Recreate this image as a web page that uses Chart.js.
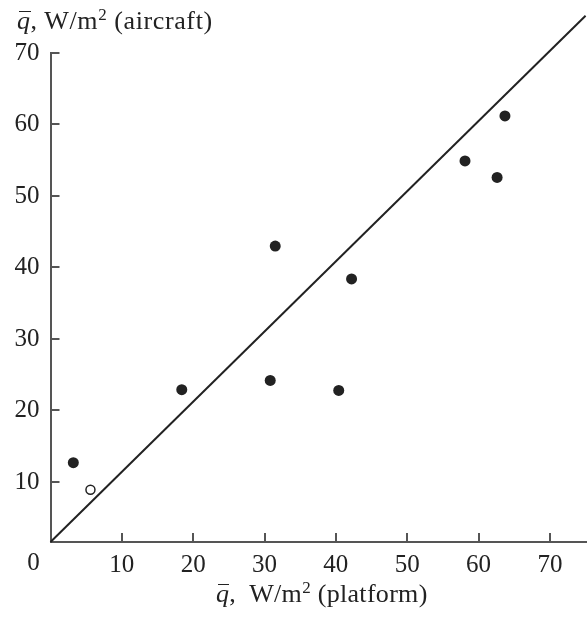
<!DOCTYPE html>
<html>
<head>
<meta charset="utf-8">
<script src="https://cdn.jsdelivr.net/npm/chart.js@4"></script>
<style>
  body { margin: 0; background: #fff; }
  #wrap { position: relative; width: 587px; height: 618px; }
  .ttl { position: absolute; font-family: "Liberation Serif", serif; font-size: 26px; line-height: 26px; letter-spacing: 0.6px; color: #222; white-space: pre; }
  .ttl i { position: relative; }
  .ttl i::before { content: ''; position: absolute; left: 2px; right: 0; top: 5px; border-top: 1.6px solid #222; }
  .ttl sup { font-size: 17px; line-height: 0; vertical-align: 9px; }
</style>
</head>
<body>
<div id="wrap">
  <canvas id="chart" width="587" height="618"></canvas>
  <div class="ttl" style="left:17px; top:8px;"><i>q</i>, W/m<sup>2</sup> (aircraft)</div>
  <div class="ttl" style="left:216px; top:581px; letter-spacing:0.3px;"><i>q</i>,  W/m<sup>2</sup> (platform)</div>
</div>
<script>
  // platform vs aircraft heat flux
  const platformFilled = [3.2, 18.4, 30.8, 31.5, 40.4, 42.2, 58.1, 62.6, 63.7];
  const aircraftFilled = [12.7, 22.9, 24.2, 43.0, 22.8, 38.4, 54.9, 52.6, 61.2];
  const platformOpen = [5.6];
  const aircraftOpen = [8.9];
  const lineX = [0, 75];
  const lineY = [1.6, 75.2];
  const xTicks = [0, 10, 20, 30, 40, 50, 60, 70];
  const yTicks = [10, 20, 30, 40, 50, 60, 70];

  const toPts = (xs, ys) => xs.map((x, i) => ({ x: x, y: ys[i] }));
  const axisColor = '#555';
  const font = { family: 'Liberation Serif', size: 25 };

  const tickMarks = {
    id: 'tickMarks',
    afterDraw(chart) {
      const ctx = chart.ctx;
      const xs = chart.scales.x, ys = chart.scales.y;
      const a = chart.chartArea;
      ctx.save();
      ctx.strokeStyle = axisColor;
      ctx.lineWidth = 2;
      xTicks.forEach(v => {
        if (v === 0) return;
        const px = Math.round(xs.getPixelForValue(v));
        ctx.beginPath();
        ctx.moveTo(px, a.bottom);
        ctx.lineTo(px, a.bottom - 9);
        ctx.stroke();
      });
      yTicks.forEach(v => {
        const py = Math.round(ys.getPixelForValue(v));
        ctx.beginPath();
        ctx.moveTo(a.left, py);
        ctx.lineTo(a.left + 9, py);
        ctx.stroke();
      });
      // origin label sits left of the corner
      ctx.fillStyle = '#222';
      ctx.font = '25px "Liberation Serif"';
      ctx.textAlign = 'center';
      ctx.textBaseline = 'middle';
      ctx.fillText('0', a.left - 17, a.bottom + 21);
      ctx.restore();
    }
  };

  new Chart(document.getElementById('chart'), {
    type: 'scatter',
    data: {
      datasets: [
        {
          type: 'line',
          data: toPts(lineX, lineY),
          borderColor: '#222',
          borderWidth: 2,
          pointRadius: 0,
          clip: false
        },
        {
          data: toPts(platformFilled, aircraftFilled),
          backgroundColor: '#222',
          borderWidth: 0,
          pointRadius: 5.5
        },
        {
          data: toPts(platformOpen, aircraftOpen),
          backgroundColor: '#fff',
          borderColor: '#222',
          borderWidth: 1.5,
          pointRadius: 4.5
        }
      ]
    },
    options: {
      responsive: false,
      animation: false,
      layout: { autoPadding: false, padding: { top: 53, left: 0, right: 0, bottom: 0 } },
      plugins: { legend: { display: false }, tooltip: { enabled: false } },
      scales: {
        x: {
          type: 'linear',
          min: 0,
          max: 75.2,
          afterFit(scale) { scale.height = 76; scale.paddingRight = 0; scale.paddingLeft = 0; },
          afterBuildTicks(scale) { scale.ticks = xTicks.map(v => ({ value: v })); },
          ticks: {
            font: font,
            color: '#222',
            padding: 8,
            maxRotation: 0,
            callback: v => (v === 0 ? '' : v)
          },
          grid: { display: false, drawTicks: false },
          border: { display: true, color: axisColor, width: 2 }
        },
        y: {
          type: 'linear',
          min: 1.6,
          max: 70,
          afterFit(scale) { scale.width = 50.5; },
          afterBuildTicks(scale) { scale.ticks = yTicks.map(v => ({ value: v })); },
          ticks: { font: font, color: '#222', padding: 11 },
          grid: { display: false, drawTicks: false },
          border: { display: true, color: axisColor, width: 2 }
        }
      }
    },
    plugins: [tickMarks]
  });
</script>
</body>
</html>
